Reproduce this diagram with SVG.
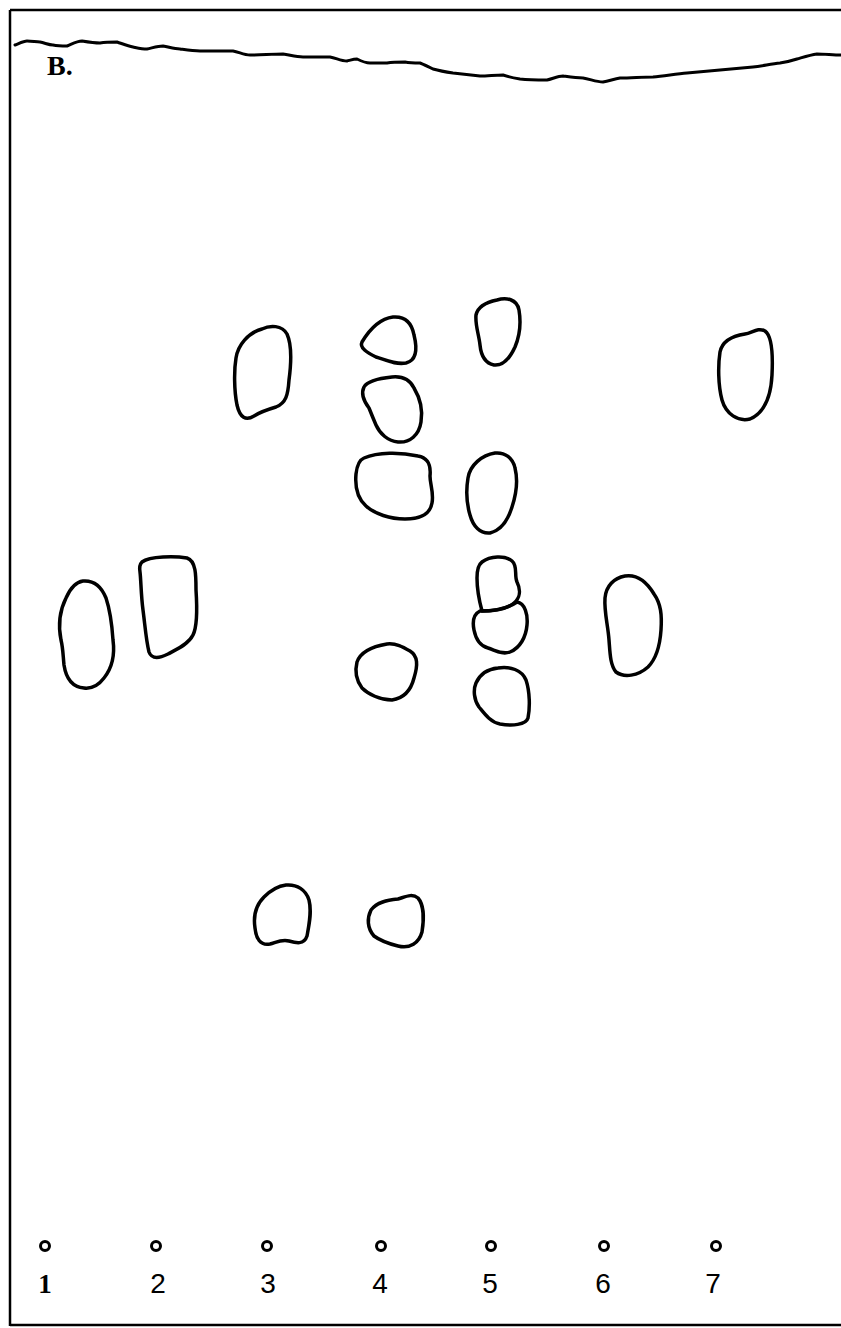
<svg xmlns="http://www.w3.org/2000/svg" width="841" height="1328" viewBox="0 0 841 1328">
<style>
.spot{fill:none;stroke:#000;stroke-width:3.5;stroke-linejoin:round}
.frame{fill:none;stroke:#000;stroke-width:2.5}
.front{fill:none;stroke:#000;stroke-width:3;stroke-linejoin:round;stroke-linecap:round}
.origin{fill:none;stroke:#000;stroke-width:3}
.num{font-family:"Liberation Sans",Arial,sans-serif;font-size:28px;fill:#000;text-anchor:middle}
.title{font-family:"Liberation Serif","Times New Roman",serif;font-size:28px;font-weight:bold;fill:#000}
</style>
<rect width="841" height="1328" fill="#fff"/>
<g id="frame">
<path class="frame" d="M10,10 H841 M10,10 V1326 M10,1325 H841"/>
</g>
<g id="solvent-front">
<path class="front" d="M15,45 C20,43 24,41 27,41 C32,41 36,42 40,42 C45,43 49,45 53,45 C58,46 62,46 67,46 C72,44 77,41 82,41 C88,42 94,43 100,43 C106,42 112,42 117,42 C123,44 128,46 133,47 C138,48 142,49 147,49 C152,48 158,46 163,46 C169,47 174,49 180,49 C187,50 193,51 200,51 C211,51 222,51 233,51 C239,52 244,55 250,55 C261,55 272,54 283,54 C290,55 296,57 303,57 C312,57 321,57 330,57 C336,58 341,61 347,61 C351,60 354,59 357,59 C361,61 366,63 370,63 C376,63 381,63 387,63 C393,62 399,62 405,62 C410,63 415,63 420,63 C425,65 429,67 433,69 C440,71 446,72 453,73 C462,74 471,75 480,76 C488,76 495,75 503,75 C509,77 514,78 520,79 C529,80 538,80 547,80 C552,79 558,76 563,76 C570,77 576,78 583,78 C590,79 596,82 603,82 C609,81 614,79 620,78 C631,78 642,77 653,77 C664,76 676,74 687,73 C698,72 709,71 720,70 C731,69 742,68 753,67 C762,66 771,64 780,63 C786,62 791,61 797,59 C804,57 810,55 817,54 C825,54 833,55 841,55"/>
</g>
<g id="label-B">
<text class="title" x="47" y="75">B.</text>
</g>
<g id="lane1">
<path id="spot-1a" class="spot" d="M83,581 C95,580 102,588 106,598 C110,610 112,625 113,640 C115,655 112,668 104,678 C98,686 92,689 84,688 C72,687 66,678 64,665 C63,655 63,648 61,640 C58,625 60,610 66,598 C70,589 75,582 83,581 Z"/>
<circle class="origin" cx="45" cy="1246" r="4.5"/>
<text x="45" y="1293" style="font-family:'Liberation Serif','Times New Roman',serif;font-size:27px;font-weight:bold;text-anchor:middle">1</text>
</g>
<g id="lane2">
<path id="spot-2a" class="spot" d="M142,562 C150,556 175,556 187,558 C196,561 196,575 196,590 C197,605 198,625 193,635 C188,645 175,650 168,654 C160,658 152,660 149,652 C146,640 145,625 143,610 C141,595 141,580 140,572 C139,566 140,564 142,562 Z"/>
<circle class="origin" cx="156" cy="1246" r="4.5"/>
<text class="num" x="158" y="1293">2</text>
</g>
<g id="lane3">
<path id="spot-3a" class="spot" d="M262,329 C270,325 282,325 287,334 C292,345 291,365 289,380 C288,395 286,403 276,407 C266,410 260,412 254,416 C246,421 240,418 237,405 C234,390 234,370 236,358 C238,345 248,333 262,329 Z"/>
<path id="spot-3b" class="spot" d="M286,885 C297,884 306,890 309,900 C312,912 309,925 307,936 C304,945 296,943 289,941 C282,939 277,942 270,944 C260,946 256,938 255,928 C253,915 256,905 264,897 C272,889 278,886 286,885 Z"/>
<circle class="origin" cx="267" cy="1246" r="4.5"/>
<text class="num" x="268" y="1293">3</text>
</g>
<g id="lane4">
<path id="spot-4a" class="spot" d="M362,342 C368,332 378,319 393,317 C406,316 412,324 414,335 C417,347 418,360 406,363 C396,365 386,360 376,357 C368,353 359,348 362,342 Z"/>
<path id="spot-4b" class="spot" d="M392,377 C402,376 410,380 414,388 C420,398 423,410 421,422 C419,435 410,443 398,442 C388,441 380,434 376,425 C373,418 371,413 369,408 C363,400 361,393 364,387 C368,380 382,378 392,377 Z"/>
<path id="spot-4c" class="spot" d="M364,458 C378,452 400,452 418,456 C429,458 431,466 430,476 C430,485 434,492 432,503 C430,514 422,519 405,519 C390,519 375,514 366,506 C357,498 355,485 356,474 C357,465 359,460 364,458 Z"/>
<path id="spot-4d" class="spot" d="M387,644 C396,643 403,647 410,651 C418,656 418,665 414,678 C411,690 405,698 392,700 C380,700 368,694 362,688 C356,680 355,670 357,662 C361,651 375,646 387,644 Z"/>
<path id="spot-4e" class="spot" d="M398,899 C405,897 412,893 418,898 C424,905 424,920 422,932 C419,943 410,949 398,946 C390,944 382,942 374,936 C367,928 367,918 371,910 C377,902 387,900 398,899 Z"/>
<circle class="origin" cx="381" cy="1246" r="4.5"/>
<text class="num" x="380" y="1293">4</text>
</g>
<g id="lane5">
<path id="spot-5a" class="spot" d="M497,300 C506,297 517,299 519,310 C521,322 520,335 515,347 C510,358 503,366 494,365 C484,363 481,355 480,345 C479,335 475,325 476,315 C478,306 487,302 497,300 Z"/>
<path id="spot-5b" class="spot" d="M495,453 C505,452 513,458 515,468 C518,480 516,495 512,507 C508,520 502,530 490,533 C480,534 473,526 470,515 C467,505 466,490 468,478 C470,465 482,455 495,453 Z"/>
<path id="spot-5c" class="spot" d="M482,562 C490,556 505,555 512,561 C518,566 514,575 517,582 C521,590 520,598 514,603 C507,609 495,611 482,611 C479,600 477,588 477,578 C477,570 478,565 482,562 Z"/>
<path id="spot-5d" class="spot" d="M480,611 C495,611 507,609 517,602 C525,603 528,615 527,625 C526,637 520,648 510,652 C502,655 495,650 488,648 C480,646 476,640 474,630 C472,620 474,614 480,611 Z"/>
<path id="spot-5e" class="spot" d="M498,668 C510,666 522,670 526,680 C530,692 530,708 528,718 C526,725 512,726 500,724 C490,722 484,713 479,707 C474,700 473,690 476,683 C480,674 488,669 498,668 Z"/>
<circle class="origin" cx="491" cy="1246" r="4.5"/>
<text class="num" x="490" y="1293">5</text>
</g>
<g id="lane6">
<path id="spot-6a" class="spot" d="M625,576 C638,574 648,584 654,594 C661,604 662,615 661,630 C660,645 657,658 648,667 C638,676 624,678 616,672 C610,665 610,652 609,640 C608,625 604,612 605,598 C606,586 614,578 625,576 Z"/>
<circle class="origin" cx="604" cy="1246" r="4.5"/>
<text class="num" x="603" y="1293">6</text>
</g>
<g id="lane7">
<path id="spot-7a" class="spot" d="M745,334 C752,333 758,327 765,331 C772,336 773,355 772,375 C771,395 766,412 750,419 C738,422 726,414 722,400 C718,385 718,365 720,352 C722,342 732,336 745,334 Z"/>
<circle class="origin" cx="716" cy="1246" r="4.5"/>
<text class="num" x="713" y="1293">7</text>
</g>
</svg>
